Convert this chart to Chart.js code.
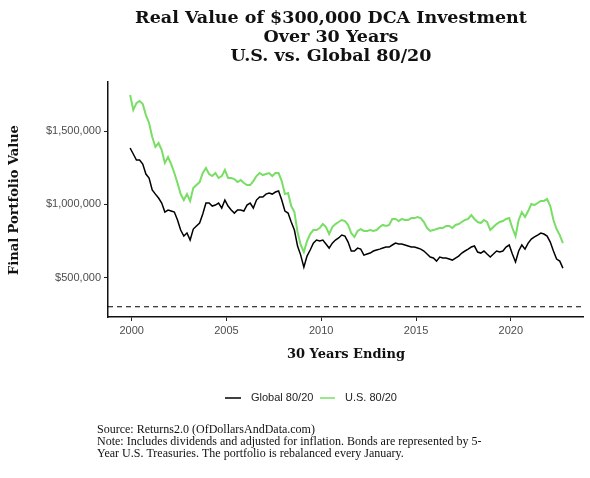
<!DOCTYPE html>
<html>
<head>
<meta charset="utf-8">
<script src="https://cdn.jsdelivr.net/npm/chart.js@4"></script>
<style>
  html, body { margin: 0; padding: 0; background: #fff; }
  #wrap { width: 590px; height: 478px; }
</style>
</head>
<body>
<div id="wrap"><canvas id="chart" width="590" height="478"></canvas></div>
<script>
// bi-monthly points, 30-year windows ending on each date
const dates = [
  '1999-12',
  '2000-02','2000-04','2000-06','2000-08','2000-10','2000-12',
  '2001-02','2001-04','2001-06','2001-08','2001-10','2001-12',
  '2002-02','2002-04','2002-06','2002-08','2002-10','2002-12',
  '2003-02','2003-04','2003-06','2003-08','2003-10','2003-12',
  '2004-02','2004-04','2004-06','2004-08','2004-10','2004-12',
  '2005-02','2005-04','2005-06','2005-08','2005-10','2005-12',
  '2006-02','2006-04','2006-06','2006-08','2006-10','2006-12',
  '2007-02','2007-04','2007-06','2007-08','2007-10','2007-12',
  '2008-02','2008-04','2008-06','2008-08','2008-10','2008-12',
  '2009-02','2009-04','2009-06','2009-08','2009-10','2009-12',
  '2010-02','2010-04','2010-06','2010-08','2010-10','2010-12',
  '2011-02','2011-04','2011-06','2011-08','2011-10','2011-12',
  '2012-02','2012-04','2012-06','2012-08','2012-10','2012-12',
  '2013-02','2013-04','2013-06','2013-08','2013-10','2013-12',
  '2014-02','2014-04','2014-06','2014-08','2014-10','2014-12',
  '2015-02','2015-04','2015-06','2015-08','2015-10','2015-12',
  '2016-02','2016-04','2016-06','2016-08','2016-10','2016-12',
  '2017-02','2017-04','2017-06','2017-08','2017-10','2017-12',
  '2018-02','2018-04','2018-06','2018-08','2018-10','2018-12',
  '2019-02','2019-04','2019-06','2019-08','2019-10','2019-12',
  '2020-02','2020-04','2020-06','2020-08','2020-10','2020-12',
  '2021-02','2021-04','2021-06','2021-08','2021-10','2021-12',
  '2022-02','2022-04','2022-06','2022-08','2022-10'
];

// final value in $ thousands
const global8020 = [
  1385,
  1344,1303,1303,1275,1207,1180,
  1098,1070,1043,1009,947,961,
  954,947,893,824,783,804,
  756,831,852,872,934,1009,
  1009,988,995,1009,975,1029,
  988,961,940,961,961,954,
  995,1009,975,1029,1050,1050,
  1070,1077,1070,1084,1091,1029,
  954,940,879,824,715,653,
  571,646,688,735,756,749,
  756,729,701,735,756,770,
  790,783,742,681,681,701,
  694,653,660,667,681,688,
  694,701,708,708,722,735,
  729,729,722,715,708,708,
  701,694,681,660,640,633,
  612,640,633,633,626,619,
  633,646,667,681,694,708,
  715,674,667,681,660,640,
  660,681,674,681,708,722,
  660,606,681,722,694,735,
  763,777,790,804,797,783,
  742,681,626,612,564
];

const us8020 = [
  1747,
  1645,1692,1706,1686,1610,1556,
  1460,1392,1419,1371,1282,1323,
  1275,1214,1146,1070,1029,1070,
  1023,1111,1132,1152,1214,1248,
  1207,1193,1214,1180,1193,1235,
  1180,1180,1173,1152,1166,1146,
  1132,1132,1159,1193,1214,1200,
  1207,1214,1193,1214,1214,1159,
  1070,1077,988,947,811,722,
  674,749,797,824,824,838,
  865,845,797,845,865,879,
  893,886,859,804,777,818,
  831,818,818,824,818,824,
  845,859,852,859,900,900,
  886,900,893,893,906,906,
  913,906,879,838,818,824,
  831,838,838,852,852,838,
  859,865,879,893,900,927,
  900,879,872,893,879,824,
  845,865,879,886,900,906,
  838,783,893,947,913,954,
  1002,995,1009,1023,1023,1036,
  988,893,831,790,735
];

const investedAmount = 300000;
const yTicks = [500000, 1000000, 1500000];
const xTicks = [2000, 2005, 2010, 2015, 2020];

const titleLines = ['Real Value of $300,000 DCA Investment', 'Over 30 Years', 'U.S. vs. Global 80/20'];
const sourceLines = [
  'Source: Returns2.0 (OfDollarsAndData.com)',
  'Note: Includes dividends and adjusted for inflation. Bonds are represented by 5-',
  'Year U.S. Treasuries. The portfolio is rebalanced every January.'
];

const GREEN = '#79de65';
const X_MIN = 1998.75, X_MAX = 2023.81;

function toYear(s) {
  const [y, m] = s.split('-').map(Number);
  return y + (m - 1) / 12;
}
const xs = dates.map(toYear);
const pts = arr => arr.map((v, i) => ({ x: xs[i], y: v * 1000 }));

const decor = {
  id: 'decor',
  afterDraw(chart) {
    const c = chart.ctx;
    c.save();
    c.fillStyle = '#111';
    c.textAlign = 'center';
    c.textBaseline = 'middle';
    c.font = 'bold 17.5px "DejaVu Serif"';
    titleLines.forEach((t, i) => c.fillText(t, 331, 18 + i * 19));

    c.font = 'bold 13px "DejaVu Serif"';
    c.fillText('30 Years Ending', 346, 355);
    c.save();
    c.translate(15, 200);
    c.rotate(-Math.PI / 2);
    c.fillText('Final Portfolio Value', 0, 0);
    c.restore();

    // legend
    c.lineWidth = 1.5;
    c.strokeStyle = '#000';
    c.beginPath(); c.moveTo(225, 398); c.lineTo(241, 398); c.stroke();
    c.strokeStyle = GREEN;
    c.beginPath(); c.moveTo(320, 398); c.lineTo(335, 398); c.stroke();
    c.font = '11px "Liberation Sans"';
    c.fillStyle = '#222';
    c.textAlign = 'left';
    c.fillText('Global 80/20', 251, 398);
    c.fillText('U.S. 80/20', 345, 398);

    c.font = '12px "Liberation Serif"';
    c.fillStyle = '#111';
    sourceLines.forEach((t, i) => c.fillText(t, 97, 430 + i * 12));
    c.restore();
  }
};

new Chart(document.getElementById('chart'), {
  type: 'line',
  data: {
    datasets: [
      {
        label: 'Global 80/20',
        data: pts(global8020),
        borderColor: '#000',
        borderWidth: 1.5
      },
      {
        label: 'U.S. 80/20',
        data: pts(us8020),
        borderColor: GREEN,
        borderWidth: 2
      },
      {
        label: 'Invested',
        data: [{ x: X_MIN, y: investedAmount }, { x: X_MAX, y: investedAmount }],
        borderColor: '#000',
        borderWidth: 1,
        borderDash: [5, 4]
      }
    ]
  },
  options: {
    responsive: false,
    animation: false,
    devicePixelRatio: 1,
    layout: { padding: { top: 82, right: 7, left: 0, bottom: 0 } },
    elements: { point: { radius: 0 }, line: { tension: 0 } },
    plugins: { legend: { display: false }, tooltip: { enabled: false } },
    scales: {
      x: {
        type: 'linear',
        min: X_MIN,
        max: X_MAX,
        afterBuildTicks: s => { s.ticks = xTicks.map(v => ({ value: v })); },
        afterFit: s => { s.height = 161; },
        grid: { drawOnChartArea: false, tickLength: 4, color: '#222', lineWidth: 1 },
        border: { display: true, color: '#111', width: 1.5 },
        ticks: {
          padding: 3,
          color: '#4d4d4d',
          font: { family: 'Liberation Sans', size: 11 },
          callback: v => String(v),
          maxRotation: 0
        }
      },
      y: {
        min: 230000,
        max: 1836000,
        afterBuildTicks: s => { s.ticks = yTicks.map(v => ({ value: v })); },
        afterFit: s => { s.width = 108; },
        grid: { drawOnChartArea: false, tickLength: 4, color: '#222', lineWidth: 1 },
        border: { display: true, color: '#111', width: 1.5 },
        ticks: {
          padding: 3,
          color: '#4d4d4d',
          font: { family: 'Liberation Sans', size: 11 },
          callback: v => '$' + Number(v).toLocaleString('en-US')
        }
      }
    }
  },
  plugins: [decor]
});
</script>
</body>
</html>
